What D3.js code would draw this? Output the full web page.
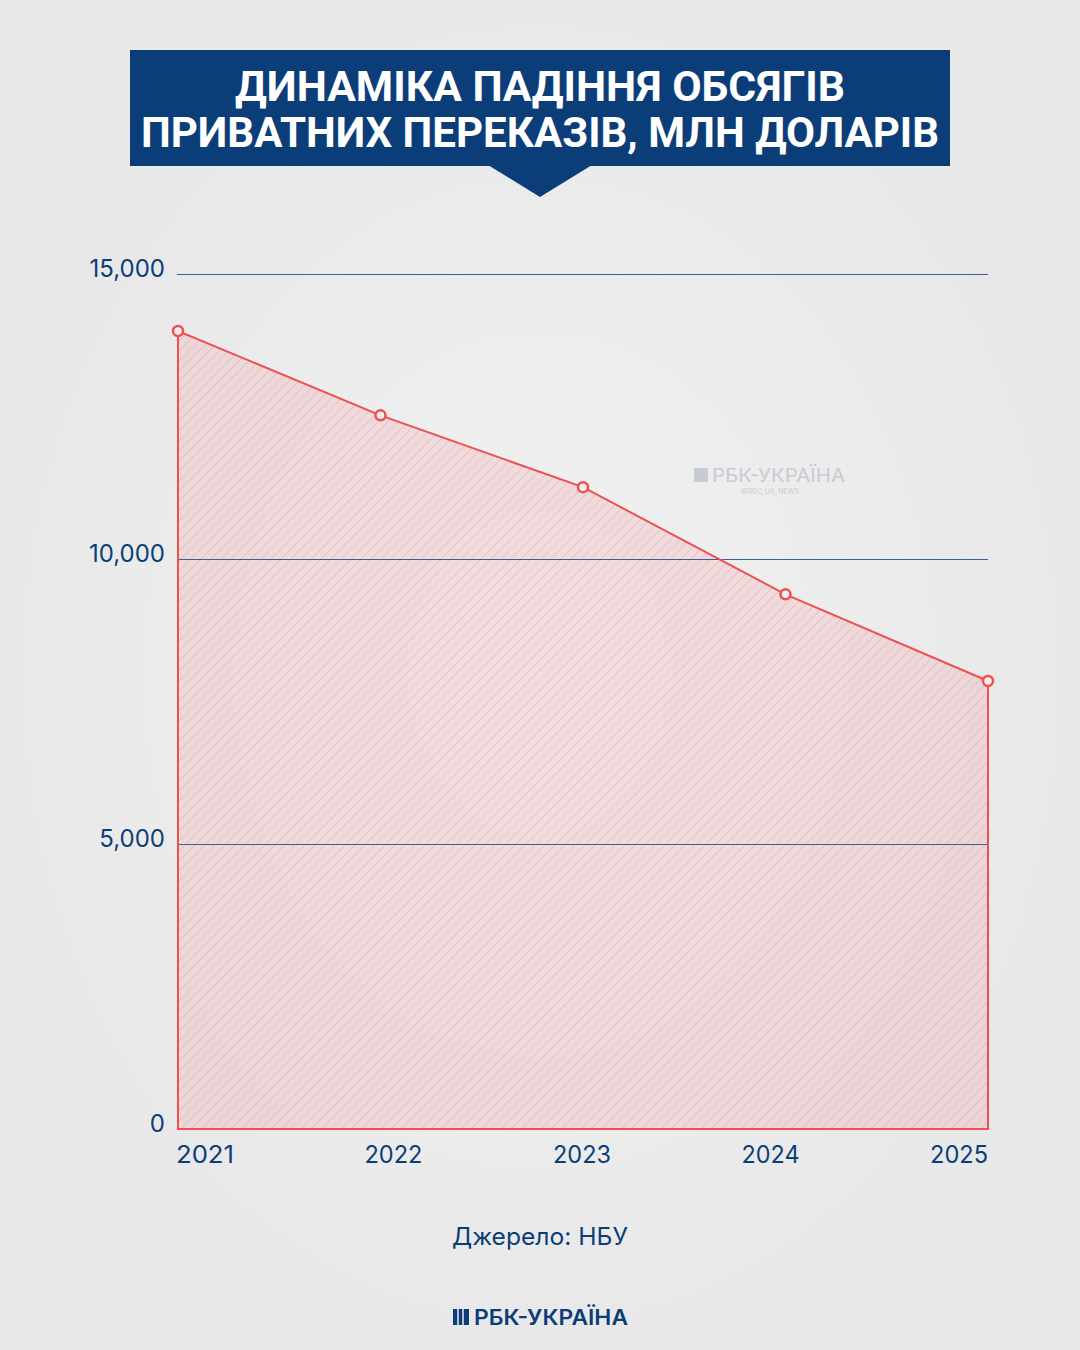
<!DOCTYPE html>
<html>
<head>
<meta charset="utf-8">
<script src="https://cdn.jsdelivr.net/npm/d3@7"></script>
<style>
  body { margin: 0; background: #ececec; }
  svg { display: block; }
</style>
</head>
<body>
<div id="chart"></div>
<script>
// data
const years = ['2021', '2022', '2023', '2024', '2025'];
const values = [14000, 12520, 11260, 9380, 7860];
const yTicks = [0, 5000, 10000, 15000];
const titleLines = ['ДИНАМІКА ПАДІННЯ ОБСЯГІВ', 'ПРИВАТНИХ ПЕРЕКАЗІВ, МЛН ДОЛАРІВ'];
const source = 'Джерело: НБУ';

const W = 1080, H = 1350;
const navy = '#0b3e78';
const red = '#ee4f52';

const svg = d3.select('#chart')
  .append('svg')
  .attr('width', W)
  .attr('height', H)
  ;

// paper background
const defs = svg.append('defs');
const bg = defs.append('radialGradient').attr('id', 'paper');
bg.append('stop').attr('offset', '0%').attr('stop-color', '#f2f2f2');
bg.append('stop').attr('offset', '100%').attr('stop-color', '#e8e8e8');
svg.append('rect').attr('width', W).attr('height', H).attr('fill', 'url(#paper)');

// hatch for area, "/" lines
const hatch = defs.append('pattern')
  .attr('id', 'hatch')
  .attr('width', 10).attr('height', 10)
  .attr('patternUnits', 'userSpaceOnUse')
  ;
hatch.append('rect').attr('width', 10).attr('height', 10).attr('fill', 'rgba(240,110,115,0.15)');
hatch.append('path')
  .attr('d', 'M0,10 L10,0 M-1,1 L1,-1 M9,11 L11,9')
  .attr('stroke', 'rgba(238,90,95,0.26)')
  .attr('stroke-width', 1)
  ;

// title box
const title = svg.append('g');
title.append('rect')
  .attr('x', 130).attr('y', 50).attr('width', 820).attr('height', 116)
  .attr('fill', navy);
title.append('path')
  .attr('d', 'M488,165 L592,165 L540,197 Z')
  .attr('fill', navy);
const titleWidths = [610, 798];
title.selectAll('text.t')
  .data(titleLines)
  .enter()
  .append('text')
    .attr('class', 't')
    .attr('x', 540)
    .attr('y', (d, i) => 101 + i * 46)
    .attr('text-anchor', 'middle')
    .attr('font-family', 'Roboto, "Liberation Sans", sans-serif')
    .attr('font-weight', 700)
    .attr('font-size', 42)
    .attr('fill', '#ffffff')
    .attr('textLength', (d, i) => titleWidths[i])
    .attr('lengthAdjust', 'spacingAndGlyphs')
    .text(d => d);

// scales
const x = d3.scalePoint().domain(years).range([178, 988]);
const xLabel = d3.scalePoint().domain(years).range([205, 959]);
const y = d3.scaleLinear().domain([0, 15000]).range([1129, 274]);

const data = years.map((yr, i) => ({ year: yr, value: values[i] }));

// area
const area = d3.area()
  .x(d => x(d.year))
  .y0(y(0))
  .y1(d => y(d.value))
  ;
svg.append('path')
  .datum(data)
  .attr('d', area)
  .attr('fill', 'url(#hatch)')
  ;

// grid lines
const yAxis = d3.axisLeft(y)
  .tickValues(yTicks)
  .tickSize(-(988 - 177))
  .tickFormat(d3.format(','))
  ;
const gy = svg.append('g')
  .attr('transform', 'translate(177,0)')
  .call(yAxis)
  ;
gy.select('.domain').remove();
gy.selectAll('.tick line')
  .attr('stroke', '#3d5f95')
  .attr('stroke-width', 1)
  ;
gy.selectAll('.tick text')
  .attr('x', -12)
  .attr('dy', '0.1em')
  .attr('fill', navy)
  .attr('font-family', 'Inter, "Open Sans", sans-serif')
  .attr('font-size', 24)
  ;

// outline of the area: line plus vertical sides and baseline
const outline = [{ year: years[0], value: 0 }].concat(data, [{ year: years[years.length - 1], value: 0 }]);
svg.append('path')
  .datum(outline)
  .attr('d', d3.line().x(d => x(d.year)).y(d => y(d.value)).curve(d3.curveLinearClosed))
  .attr('fill', 'none')
  .attr('stroke', red)
  .attr('stroke-width', 2)
  ;

// points
svg.selectAll('circle.pt')
  .data(data)
  .enter()
  .append('circle')
    .attr('class', 'pt')
    .attr('cx', d => x(d.year))
    .attr('cy', d => y(d.value))
    .attr('r', 5)
    .attr('fill', '#f4eded')
    .attr('stroke', red)
    .attr('stroke-width', 2.5);

// year labels
svg.selectAll('text.yr')
  .data(years)
  .enter()
  .append('text')
    .attr('class', 'yr')
    .attr('x', d => xLabel(d))
    .attr('y', 1163)
    .attr('text-anchor', 'middle')
    .attr('fill', navy)
    .attr('font-family', 'Inter, "Open Sans", sans-serif')
    .attr('font-size', 24)
    .attr('textLength', 58)
    .attr('lengthAdjust', 'spacingAndGlyphs')
    .text(d => d);

// watermark
const wm = svg.append('g').attr('opacity', 0.45);
wm.append('text')
  .attr('x', 712).attr('y', 482)
  .attr('font-family', 'Inter, "Open Sans", sans-serif')
  .attr('font-size', 19)
  .attr('fill', '#98a5b6')
  .attr('textLength', 133)
  .attr('lengthAdjust', 'spacingAndGlyphs')
  .text('РБК-УКРАЇНА');
wm.append('rect').attr('x', 694).attr('y', 468).attr('width', 14).attr('height', 14).attr('fill', '#98a5b6');
wm.append('text')
  .attr('x', 770).attr('y', 494)
  .attr('text-anchor', 'middle')
  .attr('font-family', 'Inter, "Open Sans", sans-serif')
  .attr('font-size', 7)
  .attr('fill', '#98a5b6')
  .text('@RBC_UA_NEWS');

// source
svg.append('text')
  .attr('x', 540).attr('y', 1245)
  .attr('text-anchor', 'middle')
  .attr('fill', navy)
  .attr('font-family', 'Inter, "Open Sans", sans-serif')
  .attr('font-size', 24)
  .attr('textLength', 176)
  .attr('lengthAdjust', 'spacingAndGlyphs')
  .text(source);

// bottom logo
const logo = svg.append('g');
logo.append('rect').attr('x', 453).attr('y', 1309).attr('width', 16).attr('height', 16).attr('fill', navy);
logo.append('path')
  .attr('d', 'M458,1309 L458,1325 M463,1309 L463,1325')
  .attr('stroke', '#ececec').attr('stroke-width', 1.5);
logo.append('text')
  .attr('x', 474).attr('y', 1325)
  .attr('fill', navy)
  .attr('font-family', 'Inter, "Open Sans", sans-serif')
  .attr('font-weight', 600)
  .attr('font-size', 21)
  .attr('textLength', 154)
  .attr('lengthAdjust', 'spacingAndGlyphs')
  .text('РБК-УКРАЇНА');
</script>
</body>
</html>
